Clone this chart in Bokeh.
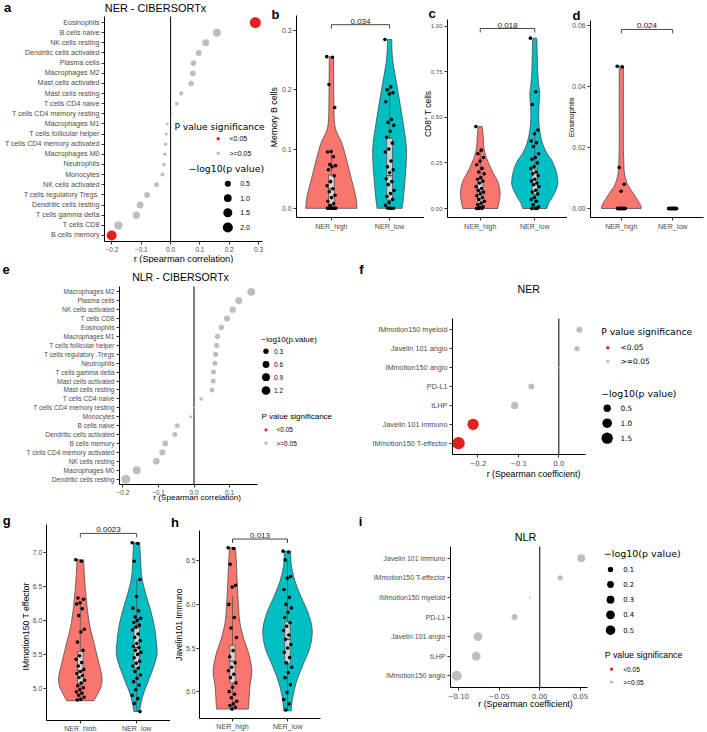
import math
import numpy as np
from bokeh.plotting import figure
from bokeh.layouts import column, row
from bokeh.models import (Range1d, FixedTicker, PrintfTickFormatter,
                          CustomJSTickFormatter, Label, ColumnDataSource)
from bokeh.embed import file_html
from bokeh.resources import INLINE

# ======================= DATA =======================
groups = ["NER_high", "NER_low"]

# (a) NER - CIBERSORTx : Spearman r and -log10(p)
a_cells = ["Eosinophils", "B cells naive", "NK cells resting", "Dendritic cells activated",
           "Plasma cells", "Macrophages M2", "Mast cells activated", "Mast cells resting",
           "T cells CD4 naive", "T cells CD4 memory resting", "Macrophages M1",
           "T cells follicular helper", "T cells CD4 memory activated", "Macrophages M0",
           "Neutrophils", "Monocytes", "NK cells activated", "T cells regulatory Tregs ",
           "Dendritic cells resting", "T cells gamma delta", "T cells CD8", "B cells memory"]
a_r = [0.289, 0.158, 0.120, 0.096, 0.078, 0.076, 0.070, 0.036, 0.021, 0.004, -0.012,
       -0.015, -0.017, -0.020, -0.023, -0.028, -0.048, -0.080, -0.104, -0.117, -0.178, -0.201]
a_lp = [2.45, 1.09, 0.76, 0.49, 0.42, 0.42, 0.38, 0.17, 0.097, 0.01, 0.04,
        0.053, 0.06, 0.078, 0.097, 0.13, 0.28, 0.49, 0.76, 0.86, 1.21, 1.94]
a_size_breaks = [0.5, 1.0, 1.5, 2.0]

# (e) NLR - CIBERSORTx
e_cells = ["Macrophages M2", "Plasma cells", "NK cells activated", "T cells CD8", "Eosinophils",
           "Macrophages M1", "T cells follicular helper", "T cells regulatory .Tregs",
           "Neutrophils", "T cells gamma delta", "Mast cells activated", "Mast cells resting",
           "T cells CD4 naive", "T cells CD4 memory resting", "Monocytes", "B cells naive",
           "Dendritic cells activated", "B cells memory", "T cells CD4 memory activated",
           "NK cells resting", "Macrophages M0", "Dendritic cells resting"]
e_r = [0.161, 0.126, 0.109, 0.093, 0.077, 0.066, 0.064, 0.061, 0.059, 0.055, 0.054,
       0.051, 0.020, 0.000, -0.009, -0.047, -0.054, -0.081, -0.089, -0.106, -0.161, -0.192]
e_lp = [0.905, 0.655, 0.504, 0.445, 0.32, 0.276, 0.276, 0.276, 0.247, 0.247, 0.247,
        0.22, 0.081, 0.0, 0.034, 0.22, 0.247, 0.373, 0.445, 0.566, 0.905, 1.29]
e_size_breaks = [0.3, 0.6, 0.9, 1.2]

# (f) NER signatures
f_sigs = ["IMmotion150 myeloid", "Javelin 101 angio", "IMmotion150 angio", "PD-L1", "tLHP",
          "Javelin 101 immuno", "IMmotion150 T-effector"]
f_r = [0.051, 0.045, -0.002, -0.068, -0.109, -0.212, -0.248]
f_lp = [0.28, 0.19, 0.003, 0.28, 0.48, 1.49, 1.9]
f_size_breaks = [0.5, 1.0, 1.5]

# (i) NLR signatures
i_sigs = ["Javelin 101 immuno", "IMmotion150 T-effector", "IMmotion150 myeloid", "PD-L1",
          "Javelin 101 angio", "tLHP", "IMmotion150 angio"]
i_r = [0.051, 0.025, -0.012, -0.031, -0.076, -0.078, -0.102]
i_lp = [0.31, 0.094, 0.004, 0.14, 0.386, 0.38, 0.55]
i_size_breaks = [0.1, 0.2, 0.3, 0.4, 0.5]

sig_labels = ["<0.05", ">=0.05"]

# (b) Memory B cells
b_high = [0.256, 0.255, 0.209, 0.170, 0.096, 0.095, 0.087, 0.074, 0.072, 0.070, 0.065, 0.055,
          0.045, 0.038, 0.033, 0.028, 0.022, 0.018, 0.012, 0.008, 0.005, 0.0, 0.0, 0.0, 0.0,
          0.0, 0.0, 0.0]
b_low = [0.285, 0.205, 0.200, 0.195, 0.193, 0.180, 0.150, 0.145, 0.140, 0.130, 0.120, 0.110,
         0.100, 0.095, 0.080, 0.070, 0.065, 0.060, 0.050, 0.045, 0.040, 0.030, 0.025, 0.020,
         0.015, 0.010, 0.005, 0.0, 0.0, 0.0, 0.0]
b_high_vy = [0.0, 0.02, 0.05, 0.08, 0.11, 0.13, 0.15, 0.20, 0.256]
b_high_vd = [0.98, 0.93, 0.76, 0.59, 0.40, 0.19, 0.11, 0.09, 0.08]
b_low_vy = [0.0, 0.014, 0.048, 0.081, 0.109, 0.149, 0.20, 0.25, 0.285]
b_low_vd = [0.48, 0.52, 0.59, 0.64, 0.63, 0.50, 0.31, 0.12, 0.08]
b_box = [(0.004, 0.033, 0.056, 0.0, 0.096), (0.014, 0.055, 0.118, 0.0, 0.205)]
b_p = "0.034"

# (c) CD8+ T cells
c_high = [0.449, 0.32, 0.30, 0.28, 0.26, 0.24, 0.22, 0.20, 0.19, 0.17, 0.16, 0.15, 0.14, 0.12,
          0.11, 0.10, 0.09, 0.08, 0.07, 0.06, 0.05, 0.04, 0.03, 0.02, 0.01, 0.005, 0.0, 0.0, 0.0]
c_low = [0.934, 0.64, 0.57, 0.43, 0.41, 0.37, 0.36, 0.34, 0.30, 0.28, 0.27, 0.25, 0.23, 0.22,
         0.20, 0.19, 0.18, 0.16, 0.15, 0.14, 0.13, 0.12, 0.10, 0.09, 0.08, 0.06, 0.05, 0.04,
         0.02, 0.01, 0.0, 0.0, 0.0]
c_high_vy = [0.0, 0.03, 0.06, 0.10, 0.15, 0.20, 0.26, 0.30, 0.35, 0.40, 0.449]
c_high_vd = [0.71, 0.76, 0.80, 0.80, 0.71, 0.51, 0.31, 0.20, 0.14, 0.12, 0.08]
c_low_vy = [0.0, 0.03, 0.06, 0.10, 0.14, 0.20, 0.26, 0.30, 0.36, 0.43, 0.50, 0.58, 0.63, 0.68,
            0.75, 0.85, 0.934]
c_low_vd = [0.49, 0.57, 0.71, 0.86, 0.94, 0.88, 0.71, 0.51, 0.31, 0.20, 0.16, 0.18, 0.20, 0.16,
            0.12, 0.10, 0.08]
c_box = [(0.024, 0.092, 0.158, 0.0, 0.32), (0.079, 0.134, 0.216, 0.0, 0.43)]
c_p = "0.018"

# (d) Eosinophils
d_high = [0.0467, 0.0465, 0.0135, 0.0080, 0.0057, 0.0, 0.0, 0.0, 0.0, 0.0, 0.0, 0.0, 0.0, 0.0,
          0.0, 0.0, 0.0, 0.0, 0.0, 0.0, 0.0, 0.0, 0.0, 0.0, 0.0, 0.0, 0.0, 0.0, 0.0, 0.0]
d_low = [0.0, 0.0, 0.0, 0.0, 0.0, 0.0, 0.0, 0.0, 0.0, 0.0, 0.0, 0.0, 0.0, 0.0, 0.0, 0.0, 0.0,
         0.0, 0.0, 0.0, 0.0, 0.0, 0.0, 0.0, 0.0, 0.0, 0.0, 0.0, 0.0, 0.0]
d_high_vy = [0.0, 0.001, 0.003, 0.005, 0.007, 0.009, 0.012, 0.015, 0.02, 0.03, 0.04, 0.0467]
d_high_vd = [0.86, 0.84, 0.69, 0.52, 0.34, 0.22, 0.13, 0.11, 0.09, 0.09, 0.09, 0.09]
d_low_vy = []
d_low_vd = []
d_box = [(0.0, 0.0, 0.0, 0.0, 0.0), (0.0, 0.0, 0.0, 0.0, 0.0)]
d_p = "0.024"

# (g) IMmotion150 T effector
g_high = [6.89, 6.87, 6.33, 6.31, 6.26, 6.24, 6.17, 6.07, 5.87, 5.83, 5.68, 5.56, 5.48, 5.43,
          5.38, 5.33, 5.28, 5.25, 5.22, 5.19, 5.16, 5.12, 5.08, 5.04, 5.01, 4.98, 4.95, 4.93,
          4.90, 4.87, 4.84, 4.83]
g_low = [7.14, 7.13, 6.87, 6.60, 6.35, 6.18, 6.14, 6.05, 6.03, 6.00, 5.97, 5.93, 5.90, 5.86,
         5.80, 5.75, 5.70, 5.66, 5.62, 5.60, 5.56, 5.53, 5.50, 5.45, 5.40, 5.37, 5.33, 5.30,
         5.25, 5.20, 5.15, 5.10, 5.05, 4.98, 4.90, 4.85, 4.78, 4.66]
g_high_vy = [4.82, 4.89, 5.03, 5.18, 5.42, 5.67, 5.91, 6.16, 6.35, 6.50, 6.74, 6.89]
g_high_vd = [0.54, 0.64, 0.82, 0.85, 0.70, 0.54, 0.38, 0.28, 0.23, 0.19, 0.15, 0.13]
g_low_vy = [4.66, 4.89, 5.13, 5.33, 5.50, 5.67, 5.91, 6.16, 6.40, 6.64, 6.93, 7.14]
g_low_vd = [0.11, 0.24, 0.48, 0.68, 0.80, 0.78, 0.70, 0.54, 0.35, 0.20, 0.15, 0.12]
g_box = [(5.07, 5.26, 5.54, 4.83, 6.26), (5.30, 5.60, 5.90, 4.66, 6.60)]
g_p = "0.0023"

# (h) Javelin101 Immuno
h_high = [6.65, 6.64, 6.46, 6.22, 6.20, 6.00, 5.85, 5.73, 5.62, 5.47, 5.40, 5.33, 5.28, 5.24,
          5.20, 5.16, 5.10, 5.05, 5.00, 4.97, 4.93, 4.89, 4.86, 4.84, 4.82, 4.80]
h_low = [6.61, 6.60, 6.51, 6.32, 6.30, 6.17, 6.08, 6.00, 5.96, 5.91, 5.85, 5.79, 5.75, 5.70,
         5.65, 5.60, 5.54, 5.50, 5.45, 5.39, 5.33, 5.28, 5.22, 5.16, 5.08, 4.99, 4.91, 4.86, 4.79]
h_high_vy = [4.80, 4.86, 5.05, 5.24, 5.43, 5.62, 5.81, 6.00, 6.19, 6.46, 6.65]
h_high_vd = [0.64, 0.66, 0.70, 0.78, 0.66, 0.44, 0.29, 0.24, 0.20, 0.16, 0.12]
h_low_vy = [4.78, 4.93, 5.12, 5.31, 5.50, 5.70, 5.89, 6.08, 6.27, 6.46, 6.61]
h_low_vd = [0.15, 0.21, 0.37, 0.63, 0.90, 1.00, 0.85, 0.56, 0.30, 0.15, 0.13]
h_box = [(5.10, 5.35, 5.53, 4.80, 6.10), (5.32, 5.60, 5.80, 4.78, 6.50)]
h_p = "0.013"

# ======================= STYLE / LAYOUT =======================
S = 1.0
RED = "#E3211C"
GREY = "#BEBEBE"
VIO = ["#F8766D", "#00BFC4"]
SANS = "Liberation Sans"
DJV = "DejaVu Sans"
TXT = "#4D4D4D"


def X(v):
    return int(round(v * S))


def fpx(v):
    return f"{v * S:.1f}px"


class Geo:
    """Pixel geometry of one figure: the whole canvas is the frame; the panel's
    plotting region is placed inside it through the ranges."""

    def __init__(self, box, frame, xr, yr):
        bx0, bx1, by0, by1 = box
        fl, fr, ft, fb = frame
        self.x0 = X(bx0)
        self.y1 = X(by1)
        self.W = X(bx1) - X(bx0)
        self.H = X(by1) - X(by0)
        L = X(fl) - X(bx0)
        R = X(fr) - X(bx0)
        T = X(ft) - X(by0)
        B = X(fb) - X(by0)
        ux = (xr[1] - xr[0]) / (R - L)
        self.xs = (xr[0] - L * ux, xr[0] + (self.W - L) * ux)
        uy = (yr[1] - yr[0]) / (T - B)
        self.ys = (yr[0] + (self.H - B) * uy, yr[0] + (0 - B) * uy)

    def data(self, px, py):
        xd = self.xs[0] + (px * S - self.x0) / self.W * (self.xs[1] - self.xs[0])
        yd = self.ys[0] + (self.y1 - py * S) / self.H * (self.ys[1] - self.ys[0])
        return xd, yd


def make_fig(box, frame, xr, yr, axes=True):
    g = Geo(box, frame, xr, yr)
    kw = dict(width=g.W, height=g.H, min_border=0, min_border_left=0, min_border_right=0,
              min_border_top=0, min_border_bottom=0,
              x_range=Range1d(g.xs[0], g.xs[1]), y_range=Range1d(g.ys[0], g.ys[1]),
              output_backend="svg", toolbar_location=None, title=None, frame_align=False)
    if not axes:
        kw.update(x_axis_location=None, y_axis_location=None)
    p = figure(**kw)
    p.xgrid.visible = False
    p.ygrid.visible = False
    p.outline_line_color = None
    if axes:
        p.yaxis.fixed_location = xr[0]
        p.yaxis.bounds = (min(yr), max(yr))
        p.xaxis.fixed_location = yr[0]
        p.xaxis.bounds = (min(xr), max(xr))
    return p, g


def put(p, g, x, y, text, size, font=SANS, color="black", align="left",
        baseline="middle", angle=0.0, style="normal"):
    p.add_layout(Label(x=x * S - g.x0, y=g.y1 - y * S, x_units="screen",
                       y_units="screen", text=text, text_font=font,
                       text_font_size=fpx(size), text_color=color, text_align=align,
                       text_baseline=baseline, angle=angle, text_font_style=style))


def letter(p, g, x, y, t):
    put(p, g, x, y, t, 13, align="center", style="bold")


def style_axes(p, xfs, xfont, yfs, yfont, standoff=2):
    for ax, fs, fnt in ((p.xaxis[0], xfs, xfont), (p.yaxis[0], yfs, yfont)):
        ax.axis_line_color = "black"
        ax.axis_line_width = 1
        ax.major_tick_line_color = "#333333"
        ax.major_tick_out = 3
        ax.major_tick_in = 0
        ax.minor_tick_line_color = None
        ax.major_label_text_color = TXT
        ax.major_label_text_font = fnt
        ax.major_label_text_font_size = fpx(fs)
        ax.major_label_standoff = standoff


def dot_panel(box, frame, cats, r, lp, dmin, dmax, cat_fs, tick_fs, tick_font, xticks, dec):
    n = len(cats)
    lo, hi = min(r), max(r)
    sp = hi - lo
    xr = (lo - 0.05 * sp, hi + 0.05 * sp)
    yr = (n - 1 + 0.6, -0.6)
    p, g = make_fig(box, frame, xr, yr)
    vmin, vmax = min(lp), max(lp)

    def sizefn(v):
        return S * (dmin + (dmax - dmin) * math.sqrt(max(v - vmin, 0) / (vmax - vmin)))

    src = ColumnDataSource(dict(x=r, y=list(range(n)), s=[sizefn(v) for v in lp],
                                c=[RED if v > -math.log10(0.05) else GREY for v in lp]))
    p.segment(x0=[0], y0=[yr[0]], x1=[0], y1=[yr[1]], line_color="black", line_width=1)
    p.scatter("x", "y", size="s", fill_color="c", line_color=None, source=src)
    style_axes(p, tick_fs, tick_font, cat_fs, SANS)
    p.yaxis.ticker = FixedTicker(ticks=list(range(n)))
    p.yaxis.major_label_overrides = {i: c for i, c in enumerate(cats)}
    p.xaxis.ticker = FixedTicker(ticks=xticks)
    p.xaxis.formatter = CustomJSTickFormatter(
        code="return (tick < -1e-9 ? '\u2212' : '') + Math.abs(tick).toFixed(%d);" % dec)
    return p, g, sizefn


def smooth(ys, ws, k=6):
    P = np.column_stack([ys, ws]).astype(float)
    P = np.vstack([P[0], P, P[-1]])
    out = []
    for i in range(1, len(P) - 2):
        p0, p1, p2, p3 = P[i - 1], P[i], P[i + 1], P[i + 2]
        for t in np.linspace(0, 1, k, endpoint=False):
            pt = 0.5 * (2 * p1 + (-p0 + p2) * t + (2 * p0 - 5 * p1 + 4 * p2 - p3) * t * t
                        + (-p0 + 3 * p1 - 3 * p2 + p3) * t ** 3)
            out.append(pt)
    out.append(P[-2])
    out = np.array(out)
    return out[:, 0], np.clip(out[:, 1], 0, None)


def violin_panel(box, frame, vals, vys, vds, boxes, sig_y, ptext, yticks, yfmt, ytick_fs,
                 standoff=2):
    allv = vals[0] + vals[1]
    lo = min(allv)
    sp = sig_y - lo
    yr = (lo - 0.05 * sp, sig_y + 0.05 * sp)
    xr = (0.4, 2.6)
    p, g = make_fig(box, frame, xr, yr)
    for k in range(2):
        c = k + 1
        if len(vys[k]) > 1:
            yy, ww = smooth(vys[k], vds[k])
            xs = list(c + 0.45 * ww) + list(c - 0.45 * ww[::-1])
            ys = list(yy) + list(yy[::-1])
            p.patch(xs, ys, fill_color=VIO[k], line_color="#3A3A3A", line_width=0.7)
        q1, med, q3, wl, wh = boxes[k]
        p.segment(x0=[c, c], y0=[q3, q1], x1=[c, c], y1=[wh, wl],
                  line_color="#555555", line_width=0.8)
        p.quad(left=[c - 0.05], right=[c + 0.05], bottom=[q1], top=[q3],
               fill_color="#DADADA", fill_alpha=0.9, line_color="#555555", line_width=0.8)
        p.segment(x0=[c - 0.05], x1=[c + 0.05], y0=[med], y1=[med],
                  line_color="#333333", line_width=1)
        n = len(vals[k])
        off = [0.08 * (((i * 0.6180339887) % 1.0) * 2 - 1) for i in range(n)]
        p.scatter([c + o for o in off], vals[k], size=3.6 * S, fill_color="black",
                  line_color=None)
    tip = 4 * (yr[1] - yr[0]) / (frame[3] - frame[2])
    p.line([1, 1, 2, 2], [sig_y - tip, sig_y, sig_y, sig_y - tip], line_color="#333333",
           line_width=0.9)
    p.add_layout(Label(x=1.5, y=sig_y, text=ptext, text_align="center",
                       text_baseline="bottom", y_offset=1, text_font=SANS,
                       text_font_size=fpx(8), text_color="#1A1A1A"))
    style_axes(p, 7.1, SANS, ytick_fs, SANS, standoff)
    p.xaxis.ticker = FixedTicker(ticks=[1, 2])
    p.xaxis.major_label_overrides = {1: groups[0], 2: groups[1]}
    p.yaxis.ticker = FixedTicker(ticks=yticks)
    p.yaxis.formatter = PrintfTickFormatter(format=yfmt)
    return p, g


def legend_fig(box):
    bx0, bx1, by0, by1 = box
    return make_fig(box, box, (bx0, bx1), (by1, by0), axes=False)


# ======================= PANELS =======================
# ---- a ----
fa, ga, asz = dot_panel((0, 267, 0, 263), (104, 262, 16, 241), a_cells, a_r, a_lp,
                        2, 11, 7.1, 6.5, SANS, [-0.2, -0.1, 0.0, 0.1, 0.2, 0.3], 1)
letter(fa, ga, 7, 7, "a")
put(fa, ga, 155, 7, "NER - CIBERSORTx", 10.9, align="center")
put(fa, ga, 183, 258, "r (Spearman correlation)", 9.2, align="center")
put(fa, ga, 174, 126, "P value significance", 9.1, font=DJV)
sx, sy, ss, sc = [], [], [], []
for yy, col in zip([138.3, 152.7], [RED, GREY]):
    xd, yd = ga.data(217.7, yy)
    sx.append(xd); sy.append(yd); ss.append(3.4 * S); sc.append(col)
for lab, yy in zip(sig_labels, [138.3, 152.7]):
    put(fa, ga, 229, yy, lab, 7)
put(fa, ga, 188.3, 168.3, "\u2212log10(p value)", 9.3, font=DJV)
for b, yy in zip(a_size_breaks, [183.3, 197.7, 212.3, 227.0]):
    xd, yd = ga.data(227.3, yy)
    sx.append(xd); sy.append(yd); ss.append(asz(b)); sc.append("black")
    put(fa, ga, 239.7, yy, f"{b:.1f}", 7)
fa.scatter(sx, sy, size=ss, fill_color=sc, line_color=None)

# ---- b, c, d ----
fb, gb = violin_panel((267, 424, 0, 263), (296, 424, 14.9, 217.2), [b_high, b_low],
                      [b_high_vy, b_low_vy], [b_high_vd, b_low_vd], b_box, 0.31, b_p,
                      [0.0, 0.1, 0.2, 0.3], "%.1f", 6.8)
letter(fb, gb, 275, 13.7, "b")
put(fb, gb, 273.5, 116.7, "Memory B cells", 8.8, align="center", angle=math.pi / 2)

fc, gc = violin_panel((424, 567, 0, 263), (447, 567, 19.1, 216.7), [c_high, c_low],
                      [c_high_vy, c_low_vy], [c_high_vd, c_low_vd], c_box, 0.987, c_p,
                      [0.0, 0.25, 0.5, 0.75, 1.0], "%.2f", 6.0)
letter(fc, gc, 431.7, 12.7, "c")
put(fc, gc, 427.8, 113.3, "CD8\u207A T cells", 8.4, align="center", angle=math.pi / 2)

fd, gd = violin_panel((567, 707, 0, 263), (590, 703, 20.4, 217.2), [d_high, d_low],
                      [d_high_vy, d_low_vy], [d_high_vd, d_low_vd], d_box, 0.0588, d_p,
                      [0.0, 0.02, 0.04, 0.06], "%.2f", 6.8)
letter(fd, gd, 576, 15.3, "d")
put(fd, gd, 571.4, 116.7, "Eosinophils", 7.8, align="center", angle=math.pi / 2)

# ---- e ----
fe, ge, esz = dot_panel((0, 258, 263, 505), (119.3, 257, 286.4, 483.6), e_cells,
                        e_r, e_lp, 2, 9, 6.6, 6.5, SANS, [-0.2, -0.1, 0.0, 0.1], 1)
letter(fe, ge, 5.5, 268.5, "e")
put(fe, ge, 180, 276.7, "NLR - CIBERSORTx", 10.5, align="center")
put(fe, ge, 196.7, 496.7, "r (Spearman correlation)", 8.1, align="center")

feL, geL = legend_fig((258, 355, 263, 505))
put(feL, geL, 261, 339, "\u2212log10(p.value)", 8)
lx, ly, ls, lc = [], [], [], []
for b, yy in zip(e_size_breaks, [350.7, 364.0, 376.7, 390.0]):
    lx.append(265.5); ly.append(yy); ls.append(esz(b)); lc.append("black")
    put(feL, geL, 273.5, yy, f"{b:.1f}", 6.5)
put(feL, geL, 261, 415.7, "P value significance", 8)
for lab, yy, col in zip(sig_labels, [429.3, 442.7], [RED, GREY]):
    lx.append(265.5); ly.append(yy); ls.append(3.2 * S); lc.append(col)
    put(feL, geL, 276, yy, lab, 6.5)
feL.scatter(lx, ly, size=ls, fill_color=lc, line_color=None)

# ---- f ----
ff, gf, fsz = dot_panel((355, 590, 263, 505), (452.3, 585, 317.9, 454.4), f_sigs,
                        f_r, f_lp, 2, 12.5, 7.3, 7.0, DJV, [-0.2, -0.1, 0.0], 1)
letter(ff, gf, 361, 268.5, "f")
put(ff, gf, 528.3, 288.3, "NER", 10.6, align="center")
put(ff, gf, 533, 473.3, "r (Spearman coefficient)", 8.8, align="center")

ffL, gfL = legend_fig((590, 707, 263, 505))
put(ffL, gfL, 600.7, 331, "P value significance", 9.2, font=DJV)
lx, ly, ls, lc = [], [], [], []
for lab, yy, col in zip(sig_labels, [347.3, 361.0], [RED, GREY]):
    lx.append(607.3); ly.append(yy); ls.append(3.4 * S); lc.append(col)
    put(ffL, gfL, 620, yy, lab, 7.5, font=DJV)
put(ffL, gfL, 600.7, 392.7, "\u2212log10(p value)", 9.3, font=DJV)
for b, yy in zip(f_size_breaks, [407.7, 422.7, 437.7]):
    lx.append(606.7); ly.append(yy); ls.append(fsz(b)); lc.append("black")
    put(ffL, gfL, 620, yy, f"{b:.1f}", 7.3, font=DJV)
ffL.scatter(lx, ly, size=ls, fill_color=lc, line_color=None)

# ---- g, h ----
fg, gg = violin_panel((0, 170, 505, 731), (46, 170, 524.4, 719.5), [g_high, g_low],
                      [g_high_vy, g_low_vy], [g_high_vd, g_low_vd], g_box, 7.278, g_p,
                      [5.0, 5.5, 6.0, 6.5, 7.0], "%.1f", 7.0, standoff=1)
letter(fg, gg, 6.3, 520, "g")
put(fg, gg, 25.8, 625.8, "IMmotion150 T effector", 8.6, align="center", angle=math.pi / 2)

fh, gh = violin_panel((170, 325, 505, 731), (199, 320, 530, 718.4), [h_high, h_low],
                      [h_high_vy, h_low_vy], [h_high_vd, h_low_vd], h_box, 6.749, h_p,
                      [5.0, 5.5, 6.0, 6.5], "%.1f", 6.8, standoff=1)
letter(fh, gh, 174.5, 521.7, "h")
put(fh, gh, 178.8, 624.2, "Javelin101 Immuno", 8.3, align="center", angle=math.pi / 2)

# ---- i ----
fi, gi, isz = dot_panel((325, 592, 505, 731), (450, 586.7, 546, 686.7), i_sigs,
                        i_r, i_lp, 2, 10, 7.0, 7.0, DJV, [-0.10, -0.05, 0.0, 0.05], 2)
letter(fi, gi, 360, 520.8, "i")
put(fi, gi, 525, 536, "NLR", 10.8, align="center")
put(fi, gi, 525, 703.3, "r (Spearman coefficient)", 8.9, align="center")

fiL, giL = legend_fig((592, 707, 505, 731))
put(fiL, giL, 603.3, 552.7, "\u2212log10(p value)", 9.5, font=DJV)
lx, ly, ls, lc = [], [], [], []
for b, yy in zip(i_size_breaks, [569.0, 584.0, 599.3, 614.3, 629.7]):
    lx.append(610); ly.append(yy); ls.append(isz(b)); lc.append("black")
    put(fiL, giL, 622.7, yy, f"{b:.1f}", 6.8, font=DJV)
put(fiL, giL, 604.3, 654, "P value significance", 8.8)
for lab, yy, col in zip(sig_labels, [668.7, 681.7], [RED, GREY]):
    lx.append(611); ly.append(yy); ls.append(3.2 * S); lc.append(col)
    put(fiL, giL, 622.7, yy, lab, 6.6)
fiL.scatter(lx, ly, size=ls, fill_color=lc, line_color=None)

layout = column(row(fa, fb, fc, fd), row(fe, feL, ff, ffL), row(fg, fh, fi, fiL))

open("out.html", "w").write(file_html(layout, INLINE, title="NER / NLR immune correlations"))
